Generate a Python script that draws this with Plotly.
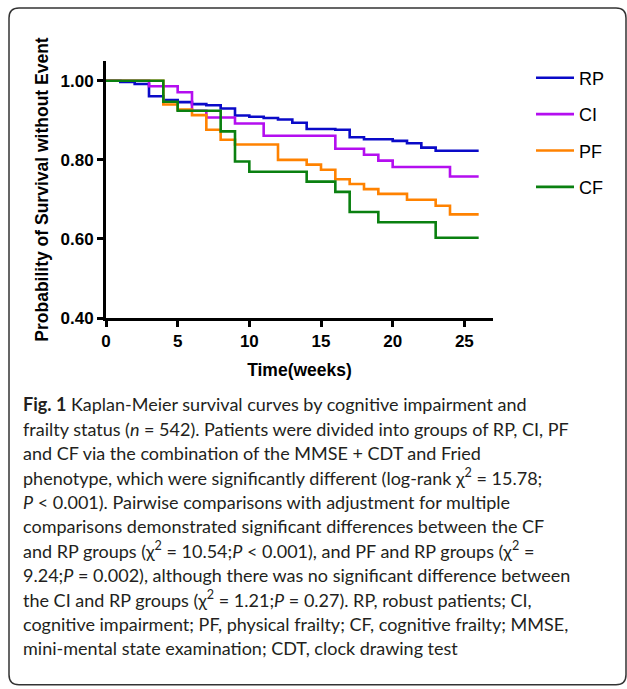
import plotly.graph_objects as go

# ---- data ----
rp_t = [0, 1, 2, 3, 4, 5, 6, 7, 8, 9, 10, 11, 12, 13, 14, 16, 17, 18, 20, 21, 22, 23, 26]
rp_s = [1.0, 0.997, 0.992, 0.961, 0.951, 0.946, 0.941, 0.938, 0.930, 0.912, 0.909, 0.906, 0.902,
        0.894, 0.878, 0.876, 0.857, 0.852, 0.848, 0.842, 0.831, 0.823, 0.823]

ci_t = [0, 3, 5, 6, 7, 9, 11, 16, 18, 19, 20, 24, 26]
ci_s = [1.0, 0.986, 0.971, 0.924, 0.907, 0.892, 0.861, 0.828, 0.813, 0.798, 0.782, 0.758, 0.758]

pf_t = [0, 4, 5, 6, 7, 8, 9, 12, 14, 15, 16, 17, 18, 19, 21, 23, 24, 26]
pf_s = [1.0, 0.940, 0.927, 0.913, 0.876, 0.851, 0.839, 0.800, 0.788, 0.775, 0.751, 0.739, 0.726,
        0.714, 0.699, 0.684, 0.662, 0.662]

cf_t = [0, 4, 5, 8, 9, 10, 14, 16, 17, 19, 23, 26]
cf_s = [1.0, 0.947, 0.924, 0.872, 0.796, 0.770, 0.745, 0.719, 0.668, 0.642, 0.603, 0.603]

group_names = ["RP", "CI", "PF", "CF"]
group_colors = ["#0a0ac8", "#b40ef0", "#ff8200", "#0a8010"]

x_ticks = [0, 5, 10, 15, 20, 25]
y_ticks = [0.40, 0.60, 0.80, 1.00]

caption_lines = [
    "<b>Fig. 1</b> Kaplan-Meier survival curves by cognitive impairment and",
    "frailty status (<i>n</i> = 542). Patients were divided into groups of RP, CI, PF",
    "and CF via the combination of the MMSE + CDT and Fried",
    "phenotype, which were significantly different (log-rank χ<sup>2</sup> = 15.78;",
    "<i>P</i> < 0.001). Pairwise comparisons with adjustment for multiple",
    "comparisons demonstrated significant differences between the CF",
    "and RP groups (χ<sup>2</sup> = 10.54;<i>P</i> < 0.001), and PF and RP groups (χ<sup>2</sup> =",
    "9.24;<i>P</i> = 0.002), although there was no significant difference between",
    "the CI and RP groups (χ<sup>2</sup> = 1.21;<i>P</i> = 0.27). RP, robust patients; CI,",
    "cognitive impairment; PF, physical frailty; CF, cognitive frailty; MMSE,",
    "mini-mental state examination; CDT, clock drawing test",
]

# ---- layout geometry (pixels) ----
W, H = 627, 689
L, R = 106, 493
T, B = 61, 318.5


def px(x):
    return (x - L) / (R - L)


def py(y):
    return (B - y) / (B - T)


fig = go.Figure()
series = [(rp_t, rp_s), (ci_t, ci_s), (pf_t, pf_s), (cf_t, cf_s)]
for (t, s), name, col in zip(series, group_names, group_colors):
    fig.add_trace(go.Scatter(
        x=t, y=s, mode="lines", name=name, legendgroup=name,
        line=dict(color=col, width=2.6, shape="hv"),
    ))

FAM = "Liberation Sans, Arial, sans-serif"
tick_font = dict(family=FAM, size=17, color="black", weight="bold")
title_font = dict(family=FAM, size=17.5, color="black", weight="bold")

fig.update_layout(
    width=W, height=H,
    margin=dict(l=L, r=W - R, t=T, b=H - B, autoexpand=False),
    paper_bgcolor="white", plot_bgcolor="white",
    showlegend=True,
    legend=dict(
        x=px(531), y=py(59.5), xanchor="left", yanchor="top",
        font=dict(family=FAM, size=18, color="black"),
        traceorder="grouped", tracegroupgap=10, itemwidth=38, bgcolor="rgba(0,0,0,0)",
    ),
    xaxis=dict(
        range=[0, 27], tickvals=x_ticks, ticks="outside", ticklen=6, tickwidth=2.5,
        tickcolor="black", showline=True, linecolor="black", linewidth=3,
        showgrid=False, zeroline=False, automargin=False, tickfont=tick_font,
        title=dict(text="Time(weeks)", font=title_font, standoff=14),
    ),
    yaxis=dict(
        range=[0.4, 1.05], tickvals=y_ticks, tickformat=".2f", ticks="outside", ticklen=6,
        tickwidth=2.5, tickcolor="black", showline=True, linecolor="black", linewidth=3,
        showgrid=False, zeroline=False, automargin=False, tickfont=tick_font,
        title=dict(text="Probability of Survival without Event", font=title_font, standoff=8),
    ),
)

# caption
cap_font = dict(family="Lato, Open Sans, sans-serif", size=18, color="#231f20")
y0, dy = 405, 24.4
for i, line in enumerate(caption_lines):
    fig.add_annotation(
        x=px(21), y=py(y0 + i * dy), xref="paper", yref="paper", text=line,
        showarrow=False, xanchor="left", yanchor="middle", align="left", font=cap_font,
    )

# rounded frame
x0f, x1f, y0f, y1f, r = 9, 626, 8, 686, 10
path = (f"M {px(x0f)},{py(y1f - r)} L {px(x0f)},{py(y0f + r)} "
        f"Q {px(x0f)},{py(y0f)} {px(x0f + r)},{py(y0f)} "
        f"L {px(x1f - r)},{py(y0f)} Q {px(x1f)},{py(y0f)} {px(x1f)},{py(y0f + r)} "
        f"L {px(x1f)},{py(y1f - r)} Q {px(x1f)},{py(y1f)} {px(x1f - r)},{py(y1f)} "
        f"L {px(x0f + r)},{py(y1f)} Q {px(x0f)},{py(y1f)} {px(x0f)},{py(y1f - r)} Z")
fig.add_shape(type="path", path=path, xref="paper", yref="paper",
              line=dict(color="#333333", width=1.5), layer="below")

fig.write_html("out.html", config={"displayModeBar": False},
               post_script="document.body.style.margin='0';")
